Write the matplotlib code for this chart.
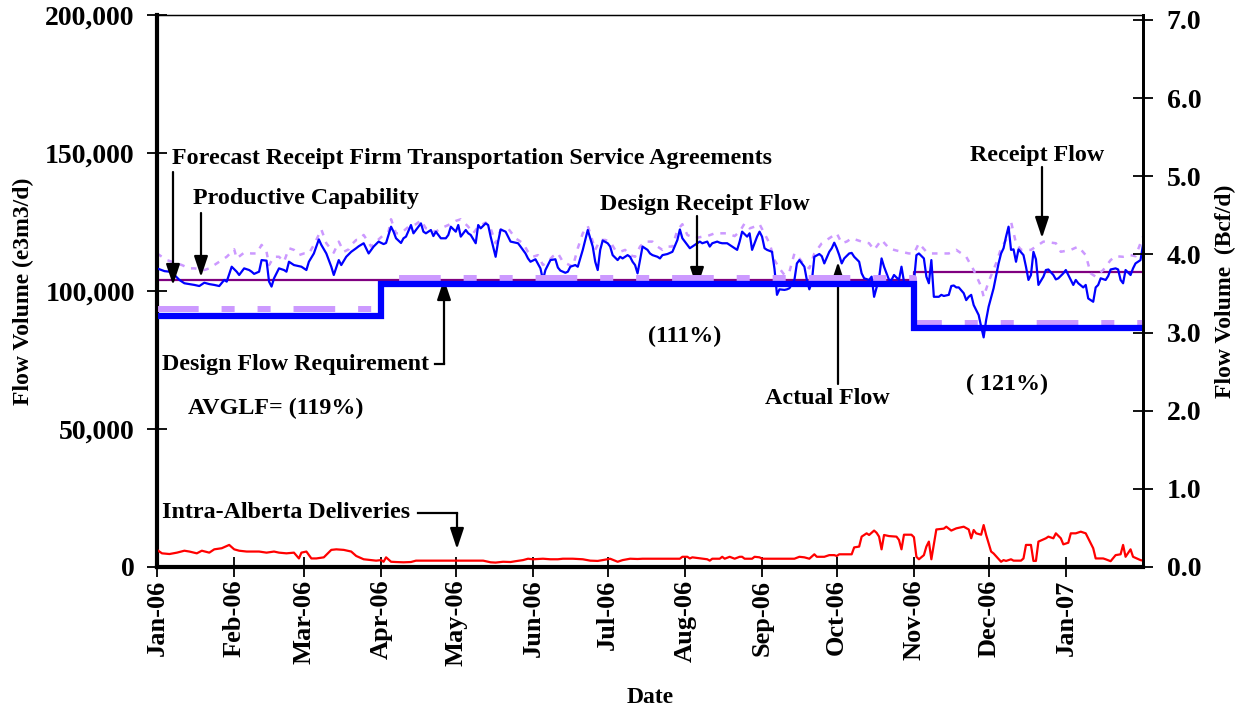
import matplotlib

matplotlib.use("Agg")
import matplotlib.dates as mdates
import matplotlib.pyplot as plt
import pandas as pd
from matplotlib.ticker import FuncFormatter, MultipleLocator

plt.rcParams["font.family"] = ["Liberation Serif", "DejaVu Serif"]
plt.rcParams["font.weight"] = "bold"
plt.rcParams["axes.labelweight"] = "bold"
plt.rcParams["lines.scale_dashes"] = False

START = pd.Timestamp("2006-01-01")
END = pd.Timestamp("2007-02-01")

# actual flow, e3m3/d (day offset from 1 Jan 2006)
actual_days = [0, 3, 5, 7, 9, 11, 13, 15, 17, 19, 21, 23, 25, 27, 28, 30, 32, 33, 35, 37, 38, 39, 41, 42, 44, 45, 46,
               47, 49, 51, 52, 53, 55, 58, 60, 61, 63, 65, 66, 68, 70, 71, 73, 74, 76, 78, 80, 81, 83, 85, 87, 89, 91,
               92, 94, 95, 96, 98, 99, 100, 102, 103, 104, 106, 107, 108, 110, 111, 112, 114, 116, 117, 118, 120, 121,
               122, 124, 125, 126, 128, 129, 130, 132, 133, 134, 136, 137, 138, 140, 141, 142, 145, 146, 148, 149, 150,
               152, 154, 155, 156, 158, 160, 161, 162, 164, 165, 166, 168, 169, 171, 172, 173, 175, 176, 177, 178, 179,
               181, 182, 183, 185, 186, 187, 189, 190, 191, 192, 193, 194, 195, 197, 198, 199, 201, 202, 203, 205, 206,
               207, 209, 210, 211, 213, 214, 215, 217, 218, 219, 221, 222, 223, 225, 226, 227, 229, 230, 231, 233, 234,
               235, 237, 238, 239, 240, 241, 242, 243, 244, 245, 247, 248, 249, 250, 252, 253, 254, 256, 257, 258, 260,
               261, 262, 263, 264, 266, 267, 268, 270, 271, 272, 273, 274, 275, 276, 278, 279, 280, 282, 283, 284, 286,
               287, 288, 290, 291, 292, 294, 295, 296, 298, 299, 300, 302, 303, 304, 305, 306, 308, 309, 310, 311, 312,
               314, 315, 316, 318, 319, 320, 321, 322, 324, 325, 326, 327, 328, 330, 331, 332, 333, 334, 336, 338, 339,
               340, 341, 342, 343, 344, 345, 346, 348, 349, 350, 351, 352, 353, 354, 356, 357, 358, 360, 361, 362, 364,
               365, 366, 368, 369, 370, 372, 373, 374, 376, 377, 378, 379, 381, 382, 383, 385, 386, 387, 388, 389, 391,
               392, 393, 395, 396]
actual_flow = [108200, 107200, 107000, 105800, 104000, 102800, 102500, 102200, 101800, 103000, 102500, 102200, 101800,
               104000, 103400, 108800, 107000, 105800, 108200, 107600, 107000, 106200, 107000, 111200, 111000, 103400,
               101600, 104600, 108200, 107600, 107000, 110600, 109400, 108800, 107600, 110600, 113600, 118700, 116700,
               113600, 108800, 105800, 111200, 109400, 112400, 114200, 115500, 116200, 117300, 113600, 116100, 117900,
               117000, 117400, 123300, 121500, 119100, 117400, 119100, 119700, 123900, 120900, 122100, 124500, 121500,
               120900, 122100, 119900, 121500, 119100, 119100, 120300, 123300, 121500, 123900, 119700, 122100, 120900,
               120300, 117300, 123900, 122700, 124500, 123900, 119700, 112400, 117900, 122300, 121500, 119700, 117900,
               117300, 116100, 113600, 111800, 110600, 111500, 108200, 104000, 107600, 111200, 111500, 108500, 107400,
               106600, 107000, 108800, 109400, 108800, 114900, 118500, 122100, 116100, 110600, 107600, 114900, 118300,
               117300, 116100, 113000, 111200, 112400, 111800, 113000, 112400, 110600, 109400, 106400, 111200, 116100,
               114900, 113600, 113000, 112400, 111800, 113000, 113400, 113800, 114200, 118500, 122300, 119100, 116700,
               115500, 116100, 117300, 117900, 117300, 117900, 116100, 117300, 117900, 117500, 117300, 117300, 116700,
               116100, 114900, 117900, 121500, 119700, 120900, 114900, 117300, 119700, 121500, 119700, 115500, 114900,
               114200, 108000, 98600, 100600, 100400, 100600, 101000, 104000, 110000, 111200, 108800, 104000, 100600,
               103400, 112400, 113400, 112600, 110000, 114200, 115500, 117500, 115500, 113000, 110000, 111800, 113600,
               113800, 112400, 110600, 106400, 104600, 104000, 105200, 97900, 104600, 111800, 108800, 104000, 104000,
               105800, 104000, 108800, 103400, 102800, 102200, 103400, 113000, 113600, 111800, 105200, 102800, 111200,
               97900, 97900, 98600, 98200, 98600, 101800, 102000, 101300, 101300, 99200, 96700, 97900, 98600, 94900,
               91300, 87100, 83200, 89500, 94300, 101000, 110000, 113600, 115500, 119700, 123300, 114900, 115100,
               110600, 115100, 113000, 108800, 104000, 105800, 114200, 111500, 102200, 105200, 107600, 107800, 105800,
               104200, 104600, 106400, 107600, 105800, 102200, 104000, 102800, 101300, 102200, 97300, 96100, 101300,
               102200, 104600, 104000, 105400, 107800, 108200, 107800, 104000, 102800, 107600, 105800, 108200, 110000,
               111200, 116700]

# receipt flow, e3m3/d
receipt_days = [0, 4, 8, 10, 13, 15, 19, 21, 25, 28, 31, 32, 35, 38, 40, 42, 44, 45, 47, 49, 51, 53, 55, 57, 59, 61,
                63, 66, 68, 71, 73, 75, 77, 78, 80, 81, 83, 86, 88, 91, 93, 94, 96, 98, 101, 104, 106, 108, 112, 114,
                117, 120, 122, 125, 127, 129, 132, 134, 136, 138, 141, 144, 147, 149, 151, 153, 155, 157, 159, 161, 163,
                165, 167, 169, 171, 173, 174, 176, 178, 180, 182, 184, 186, 188, 190, 192, 194, 196, 199, 201, 203, 205,
                207, 209, 211, 213, 216, 219, 221, 224, 227, 229, 232, 234, 236, 238, 240, 242, 246, 248, 250, 252, 254,
                256, 258, 260, 262, 264, 267, 270, 273, 275, 277, 279, 283, 286, 288, 291, 294, 296, 299, 302, 304, 306,
                309, 311, 315, 318, 321, 325, 328, 331, 332, 334, 337, 339, 341, 343, 345, 347, 351, 353, 356, 361, 363,
                367, 370, 373, 375, 377, 380, 383, 385, 388, 391, 393, 396]
receipt_flow = [113600, 111200, 110000, 109400, 108200, 108200, 107600, 108200, 110600, 112400, 115100, 111800, 113900,
                113600, 113600, 116700, 114200, 109400, 112400, 112400, 110600, 115500, 114900, 113000, 113600, 113600,
                116700, 122300, 117300, 113900, 117900, 114200, 115100, 116700, 118500, 118500, 120300, 116100, 117900,
                120300, 121500, 126000, 120900, 120900, 123300, 124200, 125600, 122700, 121500, 122700, 123900, 125400,
                126000, 123300, 120900, 123300, 124800, 122700, 117300, 122100, 122700, 119100, 117300, 114200, 112400,
                113000, 109400, 110600, 112600, 113700, 110600, 109700, 108800, 115500, 120900, 123500, 120900, 114900,
                118500, 118500, 117900, 114900, 114200, 114900, 113000, 112400, 116100, 117900, 117900, 116100, 114900,
                116100, 116100, 122100, 124200, 120300, 119100, 119700, 119900, 120900, 120900, 120900, 119900, 121500,
                124500, 122700, 123300, 124200, 117300, 111200, 108200, 105800, 107000, 113600, 111800, 109400, 108200,
                113600, 117300, 119100, 120900, 117300, 117900, 119100, 117900, 117300, 114900, 118500, 115500, 114900,
                114200, 113600, 113600, 117300, 114200, 113600, 113600, 113600, 114900, 112400, 107600, 101600, 97900,
                103400, 110000, 115500, 118500, 125100, 117300, 114900, 114900, 116100, 117900, 117300, 114200, 114900,
                116100, 113000, 106400, 105200, 107600, 111200, 112600, 112400, 113000, 112600, 119700]

# intra-Alberta deliveries, e3m3/d
intra_days = [0, 2, 5, 8, 11, 13, 16, 18, 21, 23, 26, 29, 31, 33, 36, 39, 41, 44, 47, 49, 52, 55, 57, 58, 60, 62, 64,
              67, 70, 72, 75, 78, 80, 83, 86, 88, 90, 91, 92, 94, 96, 99, 102, 104, 118, 131, 134, 136, 139, 142, 144,
              147, 149, 151, 155, 158, 161, 163, 167, 171, 174, 177, 179, 182, 185, 187, 190, 193, 195, 198, 210, 211,
              213, 214, 215, 221, 222, 223, 226, 227, 228, 230, 232, 234, 235, 236, 239, 240, 242, 243, 256, 258, 260,
              262, 264, 265, 268, 270, 272, 273, 274, 279, 280, 282, 283, 285, 286, 288, 289, 290, 291, 292, 294, 297,
              298, 299, 300, 303, 304, 305, 306, 308, 309, 310, 311, 313, 316, 317, 319, 321, 324, 326, 327, 328, 329,
              331, 332, 333, 335, 336, 339, 340, 341, 343, 344, 347, 348, 349, 351, 352, 353, 354, 357, 358, 360, 361,
              363, 364, 366, 367, 369, 371, 373, 376, 377, 380, 381, 383, 385, 387, 388, 389, 391, 392, 395, 396]
intra_alberta = [6200, 4950, 4700, 5200, 5900, 5600, 4950, 5900, 5200, 6400, 6800, 8000, 6400, 5900, 5600, 5600, 5600,
                 5200, 5600, 5200, 4950, 5200, 3100, 5200, 5600, 3100, 3100, 3500, 6200, 6400, 6200, 5600, 4000, 2800,
                 2500, 2300, 2500, 1900, 3500, 1900, 1800, 1700, 1800, 2300, 2300, 2300, 1700, 1600, 1900, 1800, 2100,
                 2500, 3000, 2800, 3000, 2800, 2800, 3000, 3000, 2800, 2300, 2200, 2500, 3000, 1900, 2500, 3000, 2900,
                 3000, 3000, 3000, 3700, 3700, 3100, 3500, 2800, 2300, 3000, 3000, 3700, 3000, 3700, 3000, 3700, 3700,
                 3000, 3000, 3700, 3500, 3000, 3000, 3700, 3500, 3000, 4600, 3700, 3700, 4300, 4300, 4000, 4600, 4600,
                 7100, 7400, 11000, 12200, 11600, 13200, 12400, 11000, 6400, 11600, 11200, 11000, 9800, 6400, 11700,
                 11700, 10800, 3700, 2800, 4300, 7400, 9200, 2800, 13600, 13900, 14600, 13200, 14000, 14600, 13600,
                 10400, 13400, 12200, 11700, 15200, 11600, 5600, 4900, 1900, 2500, 2200, 2800, 2300, 2300, 3100, 8000,
                 8000, 2200, 2200, 9200, 10400, 11000, 10400, 12200, 10400, 8200, 8800, 12200, 12200, 12800, 12200,
                 6800, 3100, 3100, 2800, 2100, 4300, 4600, 8000, 3700, 6400, 3700, 2500, 2300]

# step series: period starts and levels, e3m3/d
period_starts = ["2006-01-01", "2006-04-01", "2006-11-01", "2007-02-01"]
design_flow_requirement = [91000, 102400, 86500, 86500]
forecast_firm_service = [93400, 104600, 88500, 88500]
design_receipt_flow = [103900, 103900, 106900, 106900]

BCF_PER_E3M3 = 35.3147e-6


def to_dates(days):
    return START + pd.to_timedelta(days, unit="D")


def px(x, y):
    # figure pixel -> axes fraction (axes spans x 157..1143, y 15..567)
    return (x - 157) / 986, (567 - y) / 552


fig = plt.figure(figsize=(12.46, 7.10), dpi=100)
ax = fig.add_axes([157 / 1246, 1 - 567 / 710, 986 / 1246, 552 / 710])

steps_x = pd.to_datetime(period_starts)
ax.plot(steps_x, design_receipt_flow, drawstyle="steps-post", color="#800080", lw=1.6, zorder=2)
ax.plot(to_dates(receipt_days), receipt_flow, color="#CC99FF", lw=1.8, dashes=(4, 5), zorder=2.5)
ax.plot(to_dates(actual_days), actual_flow, color="#0000FF", lw=1.6, zorder=3)
ax.plot(steps_x, forecast_firm_service, drawstyle="steps-post", color="#CC99FF", lw=4.3,
        dashes=(30, 16.5, 9.4, 16.5, 9.4, 16.5), zorder=3.5)
ax.plot(steps_x, design_flow_requirement, drawstyle="steps-post", color="#0000FF", lw=4.5, zorder=4,
        solid_joinstyle="miter")
ax.plot(to_dates(intra_days), intra_alberta, color="#FF0000", lw=1.6, zorder=3)

ax.set_xlim(START, END)
ax.set_ylim(0, 200000)
ax.yaxis.set_major_locator(MultipleLocator(50000))
ax.yaxis.set_major_formatter(FuncFormatter(lambda v, _: f"{v:,.0f}"))
ax.xaxis.set_major_locator(mdates.MonthLocator(bymonth=range(1, 13)))
ax.xaxis.set_major_formatter(mdates.DateFormatter("%b-%y"))
ax.set_xticks(ax.get_xticks()[:-1])
ax.tick_params(axis="both", direction="inout", length=14, width=1.3)
ax.tick_params(axis="x", labelrotation=90, pad=2, labelsize=19)
ax.tick_params(axis="y", pad=9, labelsize=20)
for side, width in [("left", 3), ("bottom", 3), ("top", 1), ("right", 2)]:
    ax.spines[side].set_linewidth(width)

ax2 = ax.twinx()
ax2.set_ylim(0, 200000 * BCF_PER_E3M3)
ax2.yaxis.set_major_locator(MultipleLocator(1.0))
ax2.yaxis.set_major_formatter(FuncFormatter(lambda v, _: f"{v:.1f}"))
ax2.tick_params(axis="y", direction="inout", length=14, width=1.3, labelsize=20, pad=10)
ax2.spines["right"].set_linewidth(2)

ax.set_xlabel("Date", fontsize=17, labelpad=15)
ax.set_ylabel("Flow Volume (e3m3/d)", fontsize=17, labelpad=8)
ax2.set_ylabel("Flow Volume  (Bcf/d)", fontsize=17, labelpad=10)

text_kw = dict(transform=ax.transAxes, fontsize=17.3, fontweight="bold", va="center")
arrow_kw = dict(arrowstyle="-|>,head_length=0.9,head_width=0.3", color="black", lw=1.6, shrinkA=0, shrinkB=0,
                mutation_scale=14)


def arrow(start, end):
    ax.annotate("", xy=px(*end), xytext=px(*start), xycoords="axes fraction", textcoords="axes fraction",
                arrowprops=arrow_kw)


def link(*points):
    xs, ys = zip(*[px(*p) for p in points])
    ax.plot(xs, ys, color="black", lw=1.6, transform=ax.transAxes, clip_on=False)


ax.text(*px(172, 158), "Forecast Receipt Firm Transportation Service Agreements", **text_kw)
arrow((173, 172), (173, 285))
ax.text(*px(193, 198), "Productive Capability", **text_kw)
arrow((201, 213), (201, 277))
ax.text(*px(705, 204), "Design Receipt Flow", ha="center", **text_kw)
arrow((697, 216), (697, 288))
ax.text(*px(970, 155), "Receipt Flow", **text_kw)
arrow((1042, 167), (1042, 238))
ax.text(*px(765, 398), "Actual Flow", **text_kw)
arrow((838, 384), (838, 262))
ax.text(*px(162, 364), "Design Flow Requirement", **text_kw)
link((435, 364), (444, 364))
arrow((444, 364), (444, 279))
ax.text(*px(188, 408), "AVGLF= (119%)", **text_kw)
ax.text(*px(648, 336), "(111%)", **text_kw)
ax.text(*px(966, 384), "( 121%)", **text_kw)
ax.text(*px(162, 513), "Intra-Alberta Deliveries", **text_kw)
link((418, 513), (457, 513))
arrow((457, 513), (457, 549))

fig.savefig("out.png", dpi=100)
